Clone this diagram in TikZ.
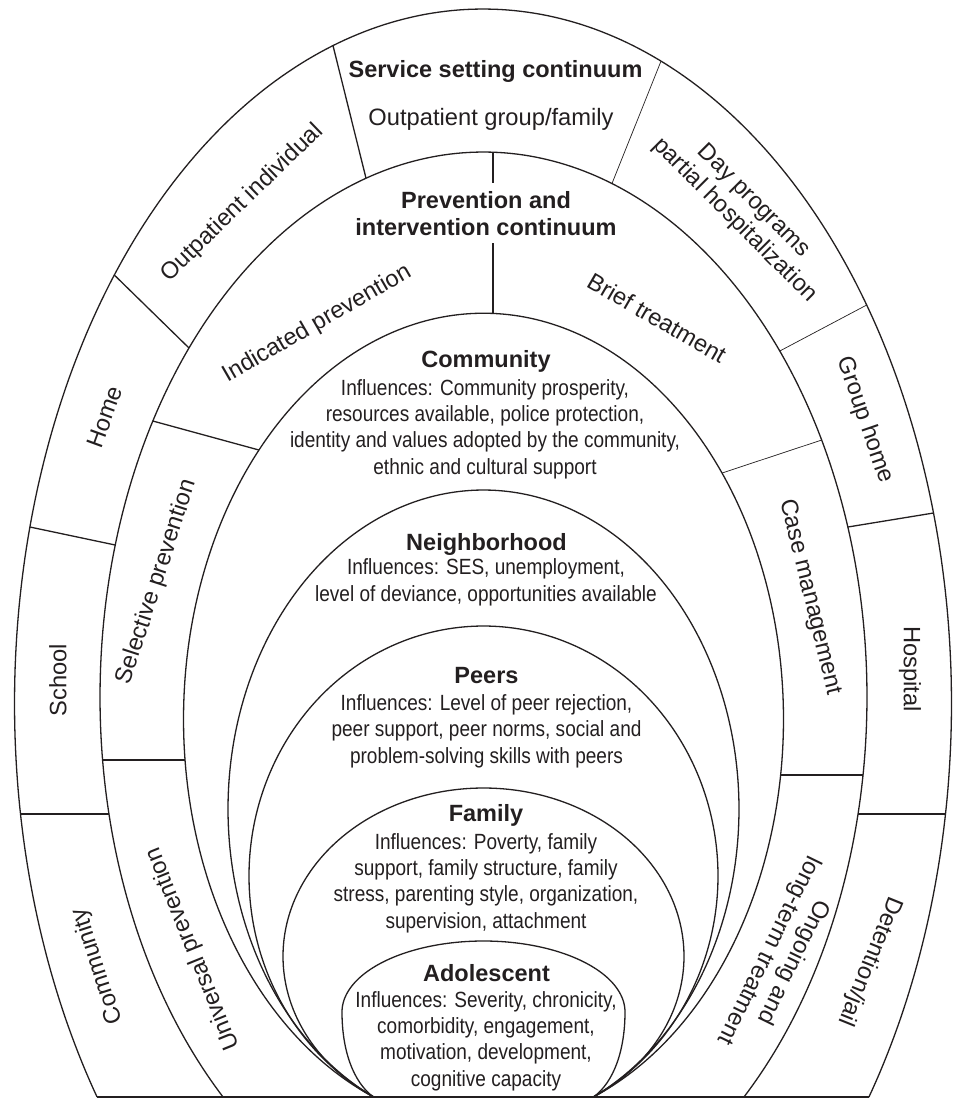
\documentclass[tikz,border=0pt]{standalone}
\usepackage{fontspec}
\setmainfont{Liberation Sans}
\newfontfamily\narrowsans[FakeStretch=0.865]{Liberation Sans}
\definecolor{ink}{RGB}{35,31,32}
\begin{document}
\begin{tikzpicture}[x=1pt,y=-1pt,
  ring/.style={line width=1.3pt, draw=ink},
  sepline/.style={line width=1.3pt, draw=ink},
  thinsep/.style={line width=0.7pt, draw=ink},
  axisline/.style={line width=1.8pt, draw=ink},
  groundline/.style={line width=2.2pt, draw=ink},
  lab/.style={font=\fontsize{23.7}{27}\selectfont, text=ink, inner sep=0pt, align=center},
  head/.style={font=\bfseries\fontsize{23.5}{27}\selectfont, text=ink, inner sep=0pt, align=center},
  body/.style={font=\narrowsans\fontsize{22}{26.3}\selectfont, text=ink, inner sep=0pt, align=center},
]
\useasboundingbox (0,0) rectangle (954,1104);
\fill[white] (0,0) rectangle (954,1104);

% ---- nested arches (ellipses cut by the ground line) ----
% service setting ring, outer edge
\draw[ring] plot[domain=-34.53:214.53, samples=300] ({483+468.5*cos(\x)},{703.4-694.4*sin(\x)});
% prevention ring, outer edge
\draw[ring] plot[domain=-47.22:227.22, samples=300] ({483.5+383.5*cos(\x)},{697-545*sin(\x)});
% community
\draw[ring] plot[domain=-68.5:248.5, samples=300] ({483.5+300*cos(\x)},{719.2-406*sin(\x)});
% neighborhood
\draw[ring] plot[domain=-64.53:244.53, samples=300] ({483.5+255.5*cos(\x)},{809-319*sin(\x)});
% peers
\draw[ring] plot[domain=-62.12:242.12, samples=300] ({483.5+234.5*cos(\x)},{876-250*sin(\x)});
% family
\draw[ring] plot[domain=-56.72:236.72, samples=300] ({483.5+200.5*cos(\x)},{956.3-168.3*sin(\x)});
% adolescent: half ellipse on top, tapering down to the ground line
\draw[ring] (373.5,1097) .. controls (353,1082) and (342,1050) .. (342,1012)
  -- plot[domain=180:0, samples=150] ({483.5+141.5*cos(\x)},{1012-71*sin(\x)})
  .. controls (625,1050) and (614,1082) .. (593.5,1097);

% ---- end points of the dividers ----
\coordinate (s1a) at (333,45.6);   \coordinate (s1b) at (366,178.2);
\coordinate (s2a) at (114.3,275);  \coordinate (s2b) at (189,348);
\coordinate (s3a) at (29.9,527);   \coordinate (s3b) at (115.2,545);
\coordinate (s4a) at (20.5,814);   \coordinate (s4b) at (108.9,814);
\coordinate (s5a) at (661,61.1);   \coordinate (s5b) at (612,183.5);
\coordinate (s6a) at (866.7,305);  \coordinate (s6b) at (779.8,351);
\coordinate (s7a) at (933.5,513);  \coordinate (s7b) at (847.9,527);
\coordinate (s8a) at (945.5,814);  \coordinate (s8b) at (858.1,814);
\coordinate (p0a) at (493,152.2);  \coordinate (p0b) at (493,313.4);
\coordinate (p1a) at (152.8,421);  \coordinate (p1b) at (258.9,450);
\coordinate (p2a) at (102.6,760);  \coordinate (p2b) at (185,760);
\coordinate (p3a) at (821.7,440);  \coordinate (p3b) at (722.1,473);
\coordinate (p4a) at (863.1,775);  \coordinate (p4b) at (780.7,775);
\coordinate (gl) at (97,1097);     \coordinate (gr) at (869,1097);

% service setting dividers
\draw[sepline] (s1a) -- (s1b);
\draw[sepline] (s2a) -- (s2b);
\draw[sepline] (s3a) -- (s3b);
\draw[sepline] (s4a) -- (s4b);
\draw[thinsep] (s5a) -- (s5b);
\draw[thinsep] (s6a) -- (s6b);
\draw[sepline] (s7a) -- (s7b);
\draw[sepline] (s8a) -- (s8b);
% prevention dividers
\draw[sepline] (p1a) -- (p1b);
\draw[sepline] (p2a) -- (p2b);
\draw[thinsep] (p3a) -- (p3b);
\draw[sepline] (p4a) -- (p4b);
% ground line
\draw[groundline] (gl) -- (gr);

% ---- service setting continuum ----
\node[head, anchor=base] (svc) at (495.5,77) {Service setting continuum};
\node[lab, anchor=base] (outgrp) at (491,125) {Outpatient group/family};
\node[lab, rotate=44] (outind) at (242.5,203) {Outpatient individual};
\node[lab, rotate=70] (home) at (104.5,417) {Home};
\node[lab, rotate=90] (school) at (58,680) {School};
\node[lab, rotate=108] (commsvc) at (98,966) {Community};
\node[lab, rotate=-45] (day) at (744,211) {Day programs\\partial hospitalization};
\node[lab, rotate=-71] (grphome) at (865,420) {Group home};
\node[lab, rotate=-90] (hosp) at (910,669) {Hospital};
\node[lab, rotate=-112] (detention) at (870,961) {Detention/jail};

% ---- prevention and intervention continuum ----
% multi-line nodes: the base anchor sits on the last line
\node[head, anchor=base, inner ysep=8pt] (prev) at (486,235) {Prevention and\\intervention continuum};
\draw[axisline] (p0a) -- (p0a |- prev.north);
\draw[axisline] (p0a |- prev.south) -- (p0b);
\node[lab, rotate=30] (indic) at (317,324) {Indicated prevention};
\node[lab, rotate=72] (select) at (157,582) {Selective prevention};
\node[lab, rotate=112] (univ) at (193,949) {Universal prevention};
\node[lab, rotate=-30] (brief) at (657,318) {Brief treatment};
\node[lab, rotate=-76] (casemgmt) at (810,597) {Case management};
\node[lab, rotate=-116] (ongoing) at (781,956) {Ongoing and\\long-term treatment};

% ---- nested influences ----
\node[head, anchor=base] (commh) at (486,367) {Community};
\node[body, anchor=base] (commb) at (485,474) {Influences: Community prosperity,\\resources available, police protection,\\identity and values adopted by the community,\\ethnic and cultural support};
\node[head, anchor=base] (neighh) at (486.5,550) {Neighborhood};
\node[body, anchor=base] (neighb) at (486,601) {Influences: SES, unemployment,\\level of deviance, opportunities available};
\node[head, anchor=base] (peersh) at (486.5,683) {Peers};
\node[body, anchor=base] (peersb) at (486.5,763) {Influences: Level of peer rejection,\\peer support, peer norms, social and\\problem-solving skills with peers};
\node[head, anchor=base] (famh) at (486,821) {Family};
\node[body, anchor=base] (famb) at (486,928) {Influences: Poverty, family\\support, family structure, family\\stress, parenting style, organization,\\supervision, attachment};
\node[head, anchor=base] (adolh) at (486.5,981) {Adolescent};
\node[body, anchor=base] (adolb) at (486,1086) {Influences: Severity, chronicity,\\comorbidity, engagement,\\motivation, development,\\cognitive capacity};
\end{tikzpicture}
\end{document}
